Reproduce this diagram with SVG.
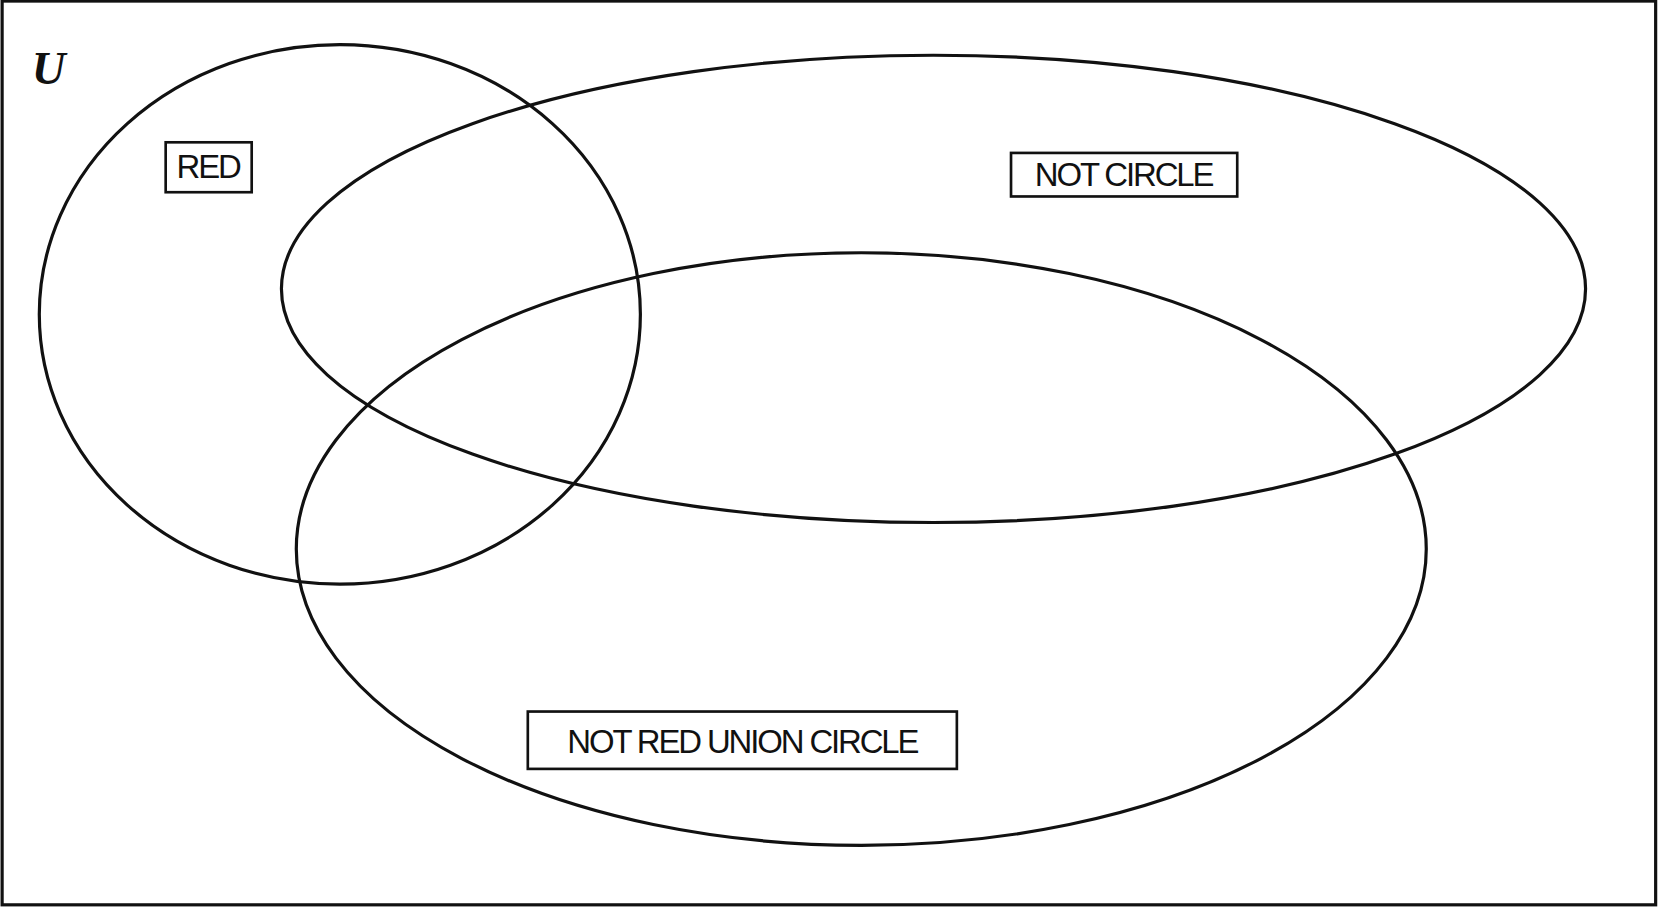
<svg xmlns="http://www.w3.org/2000/svg" width="1664" height="908" viewBox="0 0 1664 908">
<style>
.s{fill:none;stroke:#111;stroke-width:3}
.b{fill:#fff;stroke:#111;stroke-width:2.5}
.t{font-family:"Liberation Sans",Arial,sans-serif;font-size:31px;fill:#111;letter-spacing:-2px}
</style>
<rect width="1664" height="908" fill="#fff"/>
<g transform="scale(1.062)">
<rect id="frame" x="2" y="1" width="1557" height="851" class="s" stroke-width="3.5"/>
<text id="U" x="30" y="79" font-family="Liberation Serif,serif" font-weight="bold" font-style="italic" font-size="44" fill="#111">U</text>
<g id="red"><ellipse cx="320" cy="296" rx="283" ry="254" class="s"/></g>
<g id="notcircle"><ellipse cx="879" cy="272" rx="614" ry="220" class="s"/></g>
<g id="notredunion"><ellipse cx="811" cy="517" rx="532" ry="279" class="s"/></g>
<g id="lbl-red"><rect x="156" y="134" width="81" height="47" class="b" stroke-width="3"/><text x="196" y="168" class="t" text-anchor="middle">RED</text></g>
<g id="lbl-notcircle"><rect x="952" y="144" width="213" height="41" class="b"/><text x="1058" y="175" class="t" text-anchor="middle">NOT CIRCLE</text></g>
<g id="lbl-notredunion"><rect x="497" y="670" width="404" height="54" class="b"/><text x="699" y="709" class="t" text-anchor="middle">NOT RED UNION CIRCLE</text></g>
<g id="connectors"/>
</g>
</svg>
